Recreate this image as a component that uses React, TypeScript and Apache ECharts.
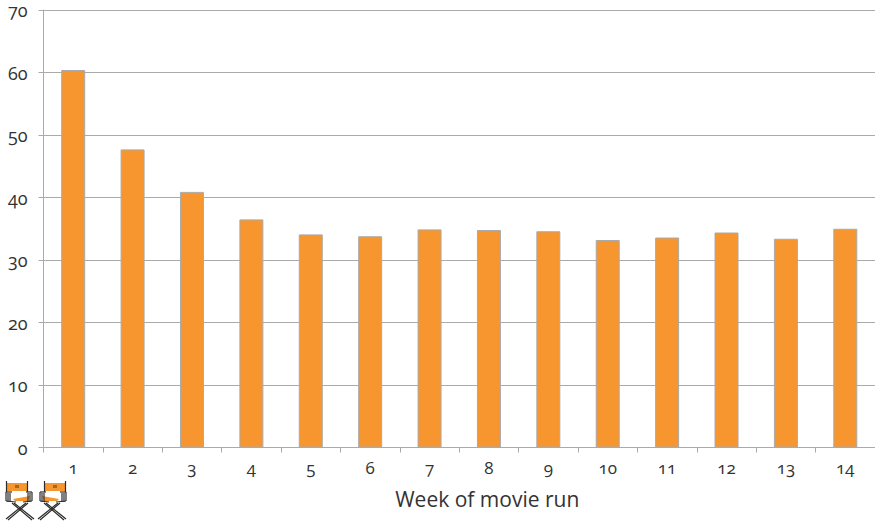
import React, { useEffect, useRef } from "react";
import * as echarts from "echarts";

const weeks = ["1","2","3","4","5","6","7","8","9","10","11","12","13","14"];
const values = [60.4, 47.7, 40.9, 36.5, 34.1, 33.8, 34.9, 34.8, 34.6, 33.2, 33.6, 34.4, 33.4, 35.0];
const axisTitle = "Week of movie run";
const FONT = "'Open Sans', sans-serif";

const chair = (x: number, y: number, scaleX: number) => ({
  type: "group", x, y, scaleX, silent: true,
  children: [
    { type: "polygon", shape: { points: [[1,2],[21,2],[21,10],[1,10]] }, style: { fill: "#f7962e" } },
    { type: "rect", shape: { x: 9, y: 4, width: 4, height: 3 }, style: { fill: "#9a6a30" } },
    { type: "polygon", shape: { points: [[7,18],[24,15],[22,20],[9,20]] }, style: { fill: "#f7962e" } },
    ...[
      [0.5,0,0.5,11],[21.5,0,21.5,11],[0,11,0,20],[26,11,26,20],[0,11,6,11],[20,11,26,11],
      [2,12,2,21],[24,12,24,21],[4,12,4,21],[22,12,22,21],[0,20,10,21],[17,21,26,20],
      [6,22,26,39],[8,22,28,38],[22,22,2,39],[20,22,0,38],
    ].map(([x1,y1,x2,y2]) => ({
      type: "line", shape: { x1, y1, x2, y2 }, style: { stroke: "#2a2a2a", lineWidth: 1.2 },
    })),
  ],
});

export default function App() {
  const ref = useRef<HTMLDivElement>(null);
  useEffect(() => {
    document.body.style.margin = "0";
    const chart = echarts.init(ref.current!, null, { renderer: "svg" });
    chart.setOption({
      animation: false,
      grid: { left: 43.5, right: -2, top: 10, bottom: 75.5, containLabel: false },
      textStyle: { fontFamily: FONT },
      xAxis: {
        type: "category", data: weeks,
        axisLine: { show: true, lineStyle: { color: "#aaa", width: 1 } },
        axisTick: { show: true, length: 5, alignWithLabel: false, lineStyle: { color: "#aaa" } },
        axisLabel: { color: "#333", fontSize: 17, fontFamily: FONT, margin: 11 },
        name: axisTitle, nameLocation: "middle", nameGap: 41,
        nameTextStyle: { color: "#333", fontSize: 21, fontFamily: FONT, padding: [0, 0, 0, 56] },
      },
      yAxis: {
        type: "value", min: 0, max: 70, interval: 10,
        axisLine: { show: true, lineStyle: { color: "#aaa", width: 1 } },
        axisTick: { show: true, length: 5, lineStyle: { color: "#aaa" } },
        splitLine: { show: true, lineStyle: { color: "#aaa", width: 1 } },
        axisLabel: { color: "#333", fontSize: 18, lineHeight: 14, fontFamily: FONT, margin: 16 },
      },
      series: [{
        type: "bar", data: values, barWidth: 24,
        itemStyle: { color: "#f7962e", borderColor: "#aaa", borderWidth: 1 },
      }],
      graphic: { elements: [chair(6, 481, 1), chair(66, 481, -1)] },
    });
    return () => chart.dispose();
  }, []);
  return (
    <div
      ref={ref}
      style={{ width: 875, height: 523, fontFeatureSettings: '"onum"', fontVariantNumeric: "oldstyle-nums" }}
    />
  );
}
